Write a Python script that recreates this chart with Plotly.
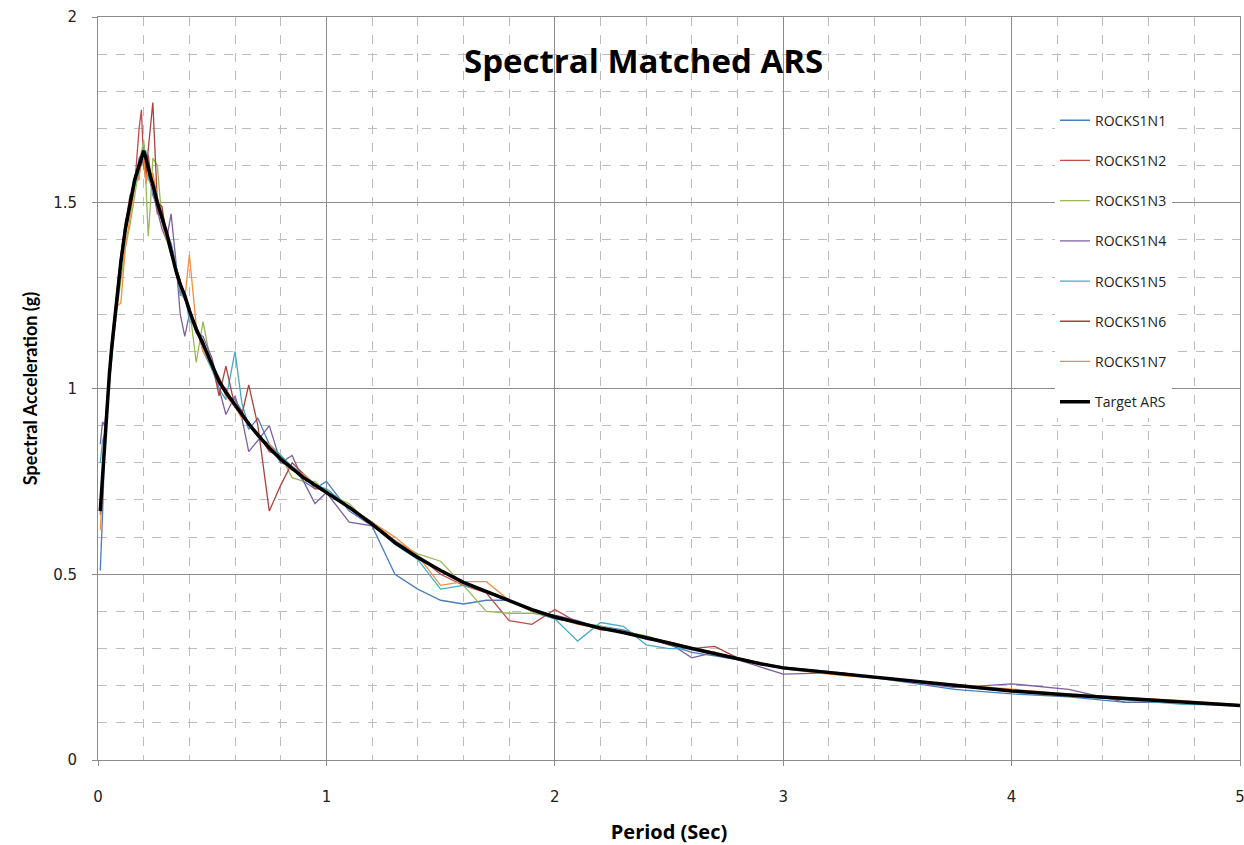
import plotly.graph_objects as go

periods = [0.01,0.02,0.03,0.04,0.05,0.06,0.08,0.10,0.12,0.14,0.16,0.17,0.18,0.19,0.20,0.21,0.22,0.23,0.24,0.26,
           0.28,0.30,0.32,0.34,0.36,0.38,0.40,0.43,0.46,0.50,0.53,0.56,0.60,0.63,0.66,0.70,0.75,0.80,0.85,0.90,
           0.95,1.00,1.10,1.20,1.30,1.40,1.50,1.60,1.70,1.80,1.90,2.00,2.10,2.20,2.30,2.40,2.50,2.60,2.70,2.80,
           2.90,3.00,3.25,3.50,3.75,4.00,4.25,4.50,4.75,5.00]

target_ars = [0.67,0.77,0.87,0.96,1.04,1.11,1.23,1.34,1.43,1.50,1.56,1.58,1.60,1.62,1.64,1.62,1.59,1.57,1.55,1.50,
              1.46,1.42,1.37,1.32,1.28,1.25,1.21,1.16,1.12,1.06,1.02,0.99,0.955,0.93,0.905,0.875,0.84,0.81,0.785,0.76,
              0.74,0.72,0.68,0.635,0.585,0.545,0.51,0.478,0.453,0.428,0.405,0.385,0.37,0.355,0.343,0.33,0.315,0.30,0.286,0.272,
              0.259,0.248,0.232,0.216,0.20,0.186,0.175,0.166,0.157,0.147]

rocks1n1 = [0.51,0.66,0.86,0.95,1.05,1.12,1.22,1.35,1.42,1.51,1.55,1.59,1.62,1.63,1.66,1.60,1.58,1.56,1.52,1.49,
            1.47,1.42,1.39,1.33,1.26,1.24,1.22,1.15,1.13,1.05,1.03,0.98,0.97,0.94,0.89,0.92,0.85,0.80,0.79,0.75,
            0.73,0.75,0.67,0.63,0.50,0.46,0.43,0.42,0.43,0.43,0.40,0.38,0.37,0.36,0.35,0.33,0.31,0.29,0.28,0.27,
            0.26,0.25,0.235,0.213,0.19,0.178,0.17,0.155,0.155,0.147]

rocks1n2 = [0.66,0.76,0.88,0.97,1.05,1.13,1.25,1.36,1.44,1.52,1.54,1.62,1.70,1.75,1.60,1.56,1.63,1.58,1.54,1.47,
            1.48,1.41,1.38,1.31,1.27,1.26,1.20,1.17,1.11,1.07,1.01,1.00,0.95,0.94,0.90,0.88,0.83,0.82,0.78,0.77,
            0.73,0.73,0.68,0.64,0.59,0.55,0.50,0.47,0.45,0.375,0.365,0.405,0.37,0.35,0.345,0.33,0.31,0.30,0.29,0.272,
            0.262,0.25,0.232,0.218,0.20,0.188,0.176,0.167,0.158,0.148]

rocks1n3 = [0.67,0.78,0.86,0.95,1.02,1.08,1.20,1.29,1.38,1.44,1.52,1.56,1.60,1.63,1.67,1.55,1.41,1.50,1.62,1.60,
            1.45,1.40,1.36,1.33,1.29,1.24,1.22,1.07,1.18,1.05,1.03,0.99,0.96,0.92,0.91,0.87,0.85,0.82,0.76,0.75,
            0.75,0.72,0.69,0.63,0.59,0.555,0.535,0.47,0.40,0.395,0.395,0.385,0.37,0.36,0.345,0.335,0.315,0.30,0.29,0.275,
            0.26,0.25,0.23,0.217,0.20,0.185,0.176,0.165,0.157,0.147]

rocks1n4 = [0.85,0.91,0.90,0.97,1.04,1.12,1.23,1.33,1.44,1.49,1.55,1.57,1.61,1.60,1.62,1.60,1.57,1.55,1.53,1.48,
            1.43,1.40,1.47,1.35,1.20,1.14,1.20,1.15,1.14,1.08,1.00,0.93,0.98,0.92,0.83,0.86,0.90,0.80,0.82,0.75,
            0.69,0.72,0.64,0.63,0.59,0.55,0.51,0.48,0.45,0.43,0.40,0.39,0.375,0.355,0.345,0.325,0.315,0.275,0.29,0.27,
            0.25,0.231,0.235,0.215,0.195,0.205,0.19,0.155,0.158,0.147]

rocks1n5 = [0.80,0.86,0.88,0.95,1.03,1.10,1.22,1.33,1.42,1.48,1.55,1.56,1.58,1.61,1.62,1.64,1.56,1.58,1.53,1.50,
            1.45,1.41,1.39,1.34,1.25,1.26,1.18,1.17,1.10,1.05,1.00,0.97,1.10,0.96,0.90,0.87,0.85,0.82,0.79,0.77,
            0.74,0.73,0.68,0.64,0.58,0.54,0.46,0.47,0.455,0.43,0.40,0.38,0.32,0.37,0.36,0.31,0.30,0.30,0.285,0.27,
            0.26,0.247,0.233,0.215,0.198,0.184,0.174,0.162,0.15,0.147]

rocks1n6 = [0.67,0.77,0.87,0.96,1.04,1.11,1.24,1.35,1.45,1.50,1.57,1.59,1.58,1.61,1.63,1.58,1.64,1.70,1.77,1.50,
            1.49,1.41,1.36,1.33,1.29,1.24,1.21,1.16,1.12,1.07,0.98,1.06,0.95,0.93,1.01,0.90,0.67,0.74,0.80,0.77,
            0.74,0.72,0.68,0.635,0.585,0.545,0.51,0.478,0.453,0.43,0.405,0.385,0.37,0.355,0.343,0.33,0.315,0.30,0.306,0.275,
            0.26,0.248,0.232,0.216,0.20,0.186,0.175,0.166,0.157,0.147]

rocks1n7 = [0.62,0.74,0.85,0.95,1.05,1.12,1.22,1.23,1.38,1.46,1.55,1.58,1.56,1.64,1.62,1.55,1.60,1.55,1.58,1.52,
            1.45,1.40,1.38,1.33,1.27,1.24,1.36,1.17,1.10,1.06,1.03,0.98,0.95,0.92,0.91,0.87,0.85,0.81,0.78,0.77,
            0.74,0.72,0.68,0.64,0.60,0.55,0.47,0.48,0.48,0.43,0.40,0.385,0.365,0.355,0.345,0.33,0.318,0.303,0.29,0.27,
            0.262,0.245,0.228,0.216,0.203,0.19,0.178,0.168,0.16,0.149]

series_names = ["ROCKS1N1","ROCKS1N2","ROCKS1N3","ROCKS1N4","ROCKS1N5","ROCKS1N6","ROCKS1N7"]
series_values = [rocks1n1, rocks1n2, rocks1n3, rocks1n4, rocks1n5, rocks1n6, rocks1n7]
series_colors = ["#4A7EBB","#BE4B48","#98B954","#7D60A0","#46AAC5","#A8423F","#F38F3F"]

fig = go.Figure()
for name, vals, col in zip(series_names, series_values, series_colors):
    fig.add_trace(go.Scatter(x=periods, y=vals, mode="lines", name=name,
                             line=dict(color=col, width=1.3), legendgroup=name))
fig.add_trace(go.Scatter(x=periods, y=target_ars, mode="lines", name="Target ARS",
                         line=dict(color="#000000", width=3.5), legendgroup="target"))

grid_major = "#8C8C8C"
grid_minor = "#BDBDBD"

fig.update_layout(
    width=1244, height=845,
    margin=dict(l=98, r=4, t=17, b=85),
    paper_bgcolor="white", plot_bgcolor="white",
    showlegend=True,
    legend=dict(x=0.838, y=0.882, xanchor="left", yanchor="top",
                bgcolor="white", borderwidth=0,
                font=dict(family="Open Sans, sans-serif", size=14, color="#222"),
                traceorder="grouped", tracegroupgap=19),
    annotations=[dict(text="<b>Spectral Matched ARS</b>", xref="paper", yref="paper",
                      x=0.478, y=0.942, xanchor="center", yanchor="middle", showarrow=False,
                      font=dict(family="Open Sans, sans-serif", size=33, color="black"))],
)

fig.update_xaxes(
    range=[0, 5], dtick=1, tick0=0, automargin=False,
    showgrid=True, gridcolor=grid_major, gridwidth=1,
    showline=True, linecolor=grid_major, linewidth=1, mirror=True,
    ticks="outside", ticklen=5, tickcolor=grid_major,
    ticklabelstandoff=18, ticklabeloverflow="allow",
    tickfont=dict(family="DejaVu Sans, sans-serif", size=15, color="#222"),
    minor=dict(dtick=0.2, tick0=0, showgrid=True, gridcolor=grid_minor, griddash="dash", gridwidth=1),
    zeroline=False,
    title=dict(text="<b>Period (Sec)</b>", standoff=20,
               font=dict(family="Open Sans, sans-serif", size=20, color="black")),
)
fig.update_yaxes(
    range=[0, 2], dtick=0.5, tick0=0, automargin=False,
    showgrid=True, gridcolor=grid_major, gridwidth=1,
    showline=True, linecolor=grid_major, linewidth=1, mirror=True,
    ticks="outside", ticklen=5, tickcolor=grid_major,
    ticklabelstandoff=12, ticklabeloverflow="allow",
    tickfont=dict(family="DejaVu Sans, sans-serif", size=15, color="#222"),
    minor=dict(dtick=0.1, tick0=0, showgrid=True, gridcolor=grid_minor, griddash="dash", gridwidth=1),
    zeroline=False,
    title=dict(text="<b>Spectral Acceleration (g)</b>", standoff=10,
               font=dict(family="Lato, Open Sans, sans-serif", size=18, color="black")),
)

fig.write_html("out.html")
